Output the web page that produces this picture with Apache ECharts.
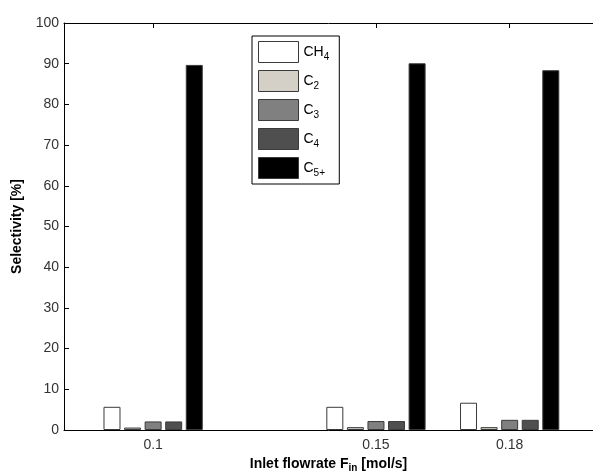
<!DOCTYPE html>
<html><head><meta charset="utf-8">
<script src="https://cdn.jsdelivr.net/npm/echarts@6/dist/echarts.min.js"></script>
<style>html,body{margin:0;padding:0;background:#fff}#c{width:593px;height:471px}</style>
</head><body><div id="c"></div>
<script>
const flowrates = [0.1, 0.15, 0.18];
const tickLabels = ['0.1', '0.15', '0.18'];
const seriesNames = ['CH4', 'C2', 'C3', 'C4', 'C5+'];
const legendLabels = ['{n|CH}{s|4}', '{n|C}{s|2}', '{n|C}{s|3}', '{n|C}{s|4}', '{n|C}{s|5+}'];
const ch4 = [5.7, 5.7, 6.7];
const c2 = [0.6, 0.7, 0.7];
const c3 = [2.1, 2.2, 2.5];
const c4 = [2.1, 2.2, 2.5];
const c5p = [89.7, 90.1, 88.4];
const yTicks = [0, 10, 20, 30, 40, 50, 60, 70, 80, 90, 100];

const values = [ch4, c2, c3, c4, c5p];
const colors = ['#ffffff', '#d4d0c8', '#808080', '#4f4f4f', '#000000'];

const chart = echarts.init(document.getElementById('c'));
const font = 'Arial, "Liberation Sans", sans-serif';
const series = values.map((v, i) => ({
  name: seriesNames[i],
  type: 'bar',
  barWidth: 17,
  barGap: '21%',
  data: flowrates.map((x, j) => [x, v[j]]),
  itemStyle: { color: colors[i], borderColor: '#3a3a3a', borderWidth: 1 },
  emphasis: { disabled: true },
  animation: false
}));

chart.setOption({
  animation: false,
  grid: { left: 64, right: 0, top: 23, bottom: 41, containLabel: false, outerBoundsMode: 'none' },
  legend: {
    left: 252, top: 36,
    orient: 'vertical',
    itemWidth: 40, itemHeight: 21, itemGap: 7,
    padding: [5, 10, 5, 6],
    borderColor: '#000', borderWidth: 1,
    backgroundColor: '#fff',
    icon: 'rect',
    formatter: name => legendLabels[seriesNames.indexOf(name)],
    textStyle: {
      fontFamily: font, color: '#000',
      rich: {
        n: { fontSize: 14, fontFamily: font, color: '#000' },
        s: { fontSize: 10, fontFamily: font, color: '#000', padding: [10, 0, 0, 0] }
      }
    },
    itemStyle: { borderColor: '#3a3a3a', borderWidth: 1 },
    data: seriesNames
  },
  xAxis: [{
    type: 'value', min: 0.08, max: 0.1987,
    axisLine: { lineStyle: { color: '#000' } },
    splitLine: { show: false },
    axisTick: { inside: true, length: 5, customValues: flowrates, lineStyle: { color: '#000' } },
    axisLabel: {
      customValues: flowrates,
      formatter: v => tickLabels[flowrates.findIndex(f => Math.abs(f - v) < 1e-9)],
      color: '#333', fontSize: 14, fontFamily: font, margin: 8
    },
    name: '{b|Inlet flowrate F}{s|in}{b| [mol/s]}',
    nameLocation: 'middle', nameGap: 22,
    nameTextStyle: {
      padding: [0, 0, 0, 0],
      rich: {
        b: { fontSize: 14, fontWeight: 'bold', fontFamily: font, color: '#000' },
        s: { fontSize: 10, fontWeight: 'bold', fontFamily: font, color: '#000', padding: [9, 0, 0, 0] }
      }
    }
  }, {
    type: 'value', position: 'top', min: 0.08, max: 0.1987,
    axisLine: { show: true, lineStyle: { color: '#000' } },
    splitLine: { show: false },
    axisTick: { show: true, inside: true, length: 5, customValues: flowrates, lineStyle: { color: '#000' } },
    axisLabel: { show: false }
  }],
  yAxis: {
    type: 'value', min: 0, max: 100, interval: 10,
    axisLine: { show: true, lineStyle: { color: '#000' } },
    splitLine: { show: false },
    axisTick: { show: true, inside: true, length: 5, lineStyle: { color: '#000' } },
    axisLabel: { color: '#333', fontSize: 14, fontFamily: font, margin: 5 },
    name: 'Selectivity [%]',
    nameLocation: 'middle', nameGap: 40,
    nameTextStyle: { fontSize: 14, fontWeight: 'bold', fontFamily: font, color: '#000' }
  },
  series: series
});
</script></body></html>
